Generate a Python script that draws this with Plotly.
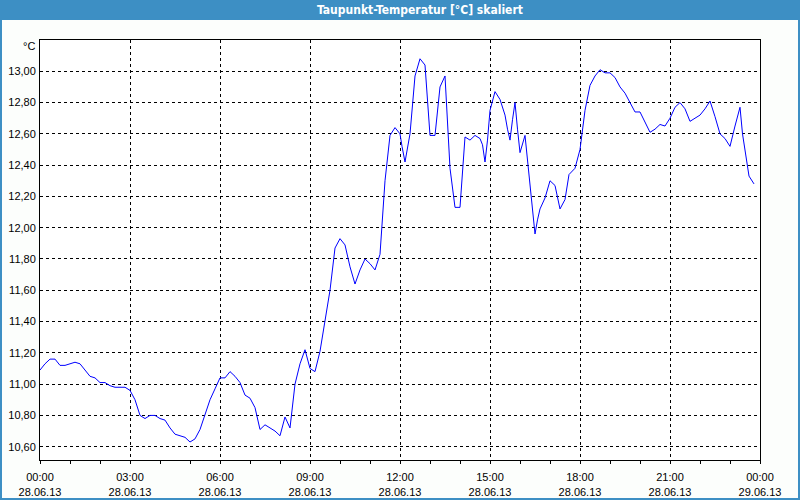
import pandas as pd
import plotly.graph_objects as go

# ---- data ----
minutes = [0, 10, 20, 30, 40, 50, 60, 70, 80, 90, 100, 110, 120, 130, 140, 150, 160, 170,
           180, 190, 200, 210, 220, 230, 240, 250, 260, 270, 280, 290, 300, 310, 320, 330,
           340, 350, 360, 370, 380, 390, 400, 410, 420, 430, 440, 450, 460, 470, 480, 490,
           500, 510, 520, 530, 540, 550, 560, 570, 580, 590, 600, 610, 620, 630, 640, 650,
           660, 670, 680, 690, 700, 710, 720, 724, 730, 740, 750, 760, 770, 780, 790, 800,
           810, 820, 830, 840, 850, 860, 870, 880, 885, 890, 895, 900, 910, 920, 930, 935,
           940, 945, 950, 955, 960, 970, 975, 985, 990, 995, 1000, 1010, 1020, 1030, 1040,
           1050, 1058, 1070, 1080, 1090, 1100, 1110, 1120, 1130, 1140, 1150, 1160, 1170,
           1180, 1190, 1200, 1210, 1220, 1230, 1240, 1250, 1260, 1270, 1280, 1290, 1300,
           1310, 1320, 1330, 1340, 1350, 1360, 1370, 1380, 1390, 1400, 1405, 1412, 1418, 1428]
values = [11.09, 11.13, 11.16, 11.16, 11.12, 11.12, 11.13, 11.14, 11.13, 11.09, 11.05, 11.04,
          11.01, 11.01, 10.99, 10.98, 10.98, 10.98, 10.96, 10.90, 10.80, 10.78, 10.80, 10.80,
          10.78, 10.77, 10.72, 10.68, 10.67, 10.66, 10.63, 10.65, 10.71, 10.81, 10.90, 10.97,
          11.04, 11.04, 11.08, 11.05, 11.01, 10.93, 10.91, 10.85, 10.71, 10.74, 10.72, 10.70,
          10.67, 10.79, 10.72, 11.00, 11.13, 11.22, 11.10, 11.08, 11.21, 11.41, 11.60, 11.87,
          11.93, 11.89, 11.75, 11.64, 11.73, 11.80, 11.77, 11.73, 11.83, 12.30, 12.59, 12.64,
          12.60, 12.52, 12.42, 12.60, 12.97, 13.08, 13.04, 12.59, 12.59, 12.90, 12.97, 12.38,
          12.13, 12.13, 12.58, 12.56, 12.59, 12.57, 12.53, 12.42, 12.56, 12.75, 12.87, 12.82,
          12.72, 12.63, 12.56, 12.69, 12.80, 12.63, 12.48, 12.59, 12.43, 12.14, 11.96, 12.05,
          12.12, 12.19, 12.30, 12.27, 12.12, 12.18, 12.34, 12.38, 12.50, 12.75, 12.91, 12.97,
          13.01, 12.99, 12.99, 12.96, 12.90, 12.86, 12.80, 12.74, 12.74, 12.68, 12.61, 12.63,
          12.66, 12.65, 12.70, 12.77, 12.80, 12.76, 12.68, 12.70, 12.72, 12.76, 12.81, 12.71,
          12.60, 12.57, 12.52, 12.65, 12.77, 12.60, 12.45, 12.33, 12.28]
y_ticks = [10.6, 10.8, 11.0, 11.2, 11.4, 11.6, 11.8, 12.0, 12.2, 12.4, 12.6, 12.8, 13.0]
title_text = "Taupunkt-Temperatur [°C] skaliert"
unit_text = "°C"

start = pd.Timestamp("2013-06-28 00:00")
times = start + pd.to_timedelta(minutes, unit="min")

W, H = 800, 500
ML, MR, MT, MB = 40, 40, 40, 40
PW, PH = W - ML - MR, H - MT - MB
def px_x(p):
    return (p - ML) / PW
def px_y(p):
    return 1 - (p - MT) / PH

BLUE = "#3d8fc4"
FONT = "Liberation Sans"

fig = go.Figure()
fig.add_trace(go.Scatter(x=times, y=values, mode="lines",
                         line=dict(color="#0000ff", width=1), hoverinfo="skip"))

fig.update_layout(
    width=W, height=H,
    margin=dict(l=ML, r=MR, t=MT, b=MB, autoexpand=False),
    paper_bgcolor="#fcfefc", plot_bgcolor="white",
    showlegend=False, separators=",.",
    font=dict(family=FONT, size=11, color="black"),
    xaxis=dict(
        type="date", automargin=False,
        range=[start, start + pd.Timedelta(hours=24)],
        dtick=3 * 3600 * 1000, tick0=start,
        tickformat="%H:%M<br>%d.%m.%y",
        showgrid=True, gridcolor="black", griddash="3px,3px", gridwidth=1,
        showline=True, linecolor="black", linewidth=1, mirror=True,
        ticks="outside", ticklen=3, tickcolor="black", ticklabelstandoff=4,
        minor=dict(dtick=3600 * 1000, ticks="outside", ticklen=3, tickcolor="black", showgrid=False),
        zeroline=False,
    ),
    yaxis=dict(
        automargin=False,
        range=[10.515, 13.2],
        tickvals=y_ticks, tickformat=".2f",
        showgrid=True, gridcolor="black", griddash="3px,3px", gridwidth=1,
        showline=True, linecolor="black", linewidth=1, mirror=True,
        ticks="", ticklabelstandoff=1,
        zeroline=False,
    ),
)

# title bar
fig.add_shape(type="rect", xref="paper", yref="paper",
              x0=px_x(0), x1=px_x(W), y0=px_y(0), y1=px_y(20),
              fillcolor=BLUE, line=dict(width=0), layer="above")
# outer border
fig.add_shape(type="rect", xref="paper", yref="paper",
              x0=px_x(1), x1=px_x(W - 1), y0=px_y(1), y1=px_y(H - 1),
              fillcolor="rgba(0,0,0,0)", line=dict(color=BLUE, width=2), layer="above")
fig.add_annotation(text="<b>" + title_text + "</b>", xref="paper", yref="paper",
                   x=px_x(420), y=px_y(10), showarrow=False,
                   font=dict(family="DejaVu Sans Condensed, Liberation Sans Narrow", size=12, color="white"),
                   xanchor="center", yanchor="middle")
fig.add_annotation(text=unit_text, xref="paper", yref="paper",
                   x=px_x(37), y=px_y(46), showarrow=False,
                   font=dict(family=FONT, size=11, color="black"),
                   xanchor="right", yanchor="middle")

fig.write_html("out.html")
